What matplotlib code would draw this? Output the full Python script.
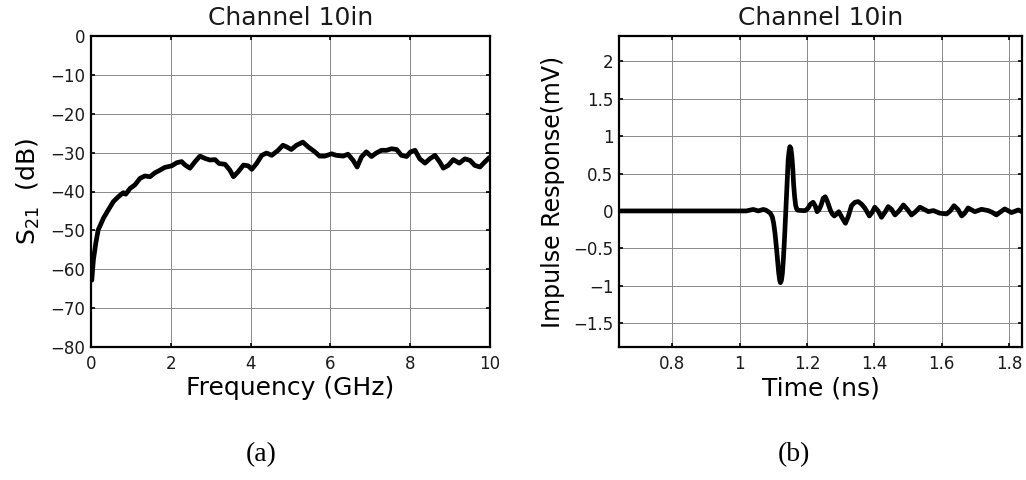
import matplotlib
matplotlib.use("Agg")
import matplotlib.pyplot as plt

plt.rcParams['font.family'] = ['DejaVu Sans']
plt.rcParams['axes.unicode_minus'] = True
plt.rcParams['text.color'] = '#1a1a1a'

# ---- Panel (a): S21 vs frequency ----
freq_ghz = [0.00, 0.02, 0.06, 0.12, 0.18, 0.31, 0.43, 0.56, 0.69, 0.81, 0.87, 0.98,
            1.10, 1.23, 1.35, 1.48, 1.60, 1.73, 1.85, 2.02, 2.15, 2.27, 2.36, 2.48,
            2.61, 2.73, 2.86, 2.98, 3.11, 3.21, 3.36, 3.48, 3.57, 3.69, 3.82, 3.94,
            4.03, 4.15, 4.28, 4.40, 4.53, 4.69, 4.81, 4.90, 5.02, 5.15, 5.31, 5.44,
            5.61, 5.73, 5.86, 6.03, 6.15, 6.32, 6.44, 6.57, 6.67, 6.78, 6.90, 7.03,
            7.15, 7.28, 7.41, 7.53, 7.66, 7.78, 7.91, 8.01, 8.12, 8.24, 8.37, 8.49,
            8.62, 8.74, 8.83, 8.95, 9.08, 9.23, 9.37, 9.50, 9.62, 9.75, 9.87, 10.0]
s21_db = [-63.0, -62.8, -57.6, -53.3, -49.9, -46.9, -44.8, -42.6, -41.3, -40.3, -40.7, -39.2,
          -38.3, -36.6, -36.0, -36.2, -35.2, -34.5, -33.8, -33.4, -32.6, -32.3, -33.2, -34.0,
          -32.3, -30.9, -31.5, -31.9, -31.8, -32.8, -33.0, -34.5, -36.2, -34.9, -33.2, -33.4,
          -34.3, -32.8, -30.7, -30.1, -30.7, -29.4, -28.1, -28.5, -29.2, -28.1, -27.3, -28.5,
          -29.8, -30.9, -30.9, -30.3, -30.7, -30.9, -30.4, -32.0, -33.7, -31.1, -29.8, -31.0,
          -30.1, -29.4, -29.4, -29.0, -29.2, -30.7, -31.0, -29.8, -29.4, -31.6, -32.7, -31.6,
          -30.7, -32.4, -34.0, -33.3, -31.8, -32.7, -31.6, -32.0, -33.3, -33.7, -32.4, -31.1]
freq_ticks = [0, 2, 4, 6, 8, 10]
s21_ticks = [0, -10, -20, -30, -40, -50, -60, -70, -80]

# ---- Panel (b): impulse response ----
time_ns = [0.60, 0.70, 0.80, 0.90, 1.00, 1.02, 1.03, 1.04, 1.048, 1.055, 1.063, 1.07,
           1.078, 1.085, 1.091, 1.097, 1.101, 1.105, 1.109, 1.113, 1.116, 1.119, 1.121,
           1.124, 1.127, 1.130, 1.133, 1.136, 1.139, 1.142, 1.144, 1.147, 1.149, 1.152,
           1.155, 1.158, 1.160, 1.163, 1.166, 1.169, 1.172, 1.185, 1.195, 1.203, 1.210,
           1.218, 1.224, 1.230, 1.236, 1.242, 1.248, 1.254, 1.261, 1.269, 1.275, 1.281,
           1.288, 1.294, 1.304, 1.314, 1.322, 1.332, 1.342, 1.352, 1.362, 1.372, 1.385,
           1.393, 1.401, 1.411, 1.421, 1.431, 1.441, 1.451, 1.461, 1.473, 1.486, 1.498,
           1.510, 1.522, 1.535, 1.548, 1.560, 1.575, 1.594, 1.614, 1.625, 1.636, 1.648,
           1.659, 1.668, 1.678, 1.698, 1.718, 1.738, 1.750, 1.762, 1.775, 1.787, 1.807,
           1.827, 1.847]
impulse_mv = [0.0, 0.0, 0.0, 0.0, 0.0, 0.0, 0.01, 0.02, 0.01, 0.0, 0.01, 0.02,
              0.01, -0.01, -0.03, -0.08, -0.165, -0.30, -0.48, -0.68, -0.83, -0.93, -0.96,
              -0.93, -0.83, -0.63, -0.39, -0.10, 0.19, 0.48, 0.68, 0.81, 0.86, 0.84,
              0.73, 0.55, 0.37, 0.20, 0.08, 0.03, 0.01, 0.005, 0.005, 0.036, 0.09,
              0.116, 0.07, -0.01, 0.02, 0.08, 0.17, 0.19, 0.12, 0.013, -0.04, -0.067,
              -0.04, -0.01, -0.09, -0.165, -0.08, 0.07, 0.115, 0.125, 0.09, 0.036, -0.067,
              -0.02, 0.05, 0.0, -0.085, -0.02, 0.058, 0.02, -0.054, 0.0, 0.08, 0.02,
              -0.054, -0.01, 0.05, 0.02, -0.009, 0.005, -0.03, -0.04, 0.0, 0.07, 0.02,
              -0.067, -0.03, 0.04, -0.01, 0.022, 0.004, -0.02, -0.054, -0.01, 0.027, -0.022,
              0.013, -0.03]
time_ticks = [0.8, 1.0, 1.2, 1.4, 1.6, 1.8]
time_ticklabels = ['0.8', '1', '1.2', '1.4', '1.6', '1.8']
imp_ticks = [-1.5, -1, -0.5, 0, 0.5, 1, 1.5, 2]
imp_ticklabels = ['\u22121.5', '\u22121', '\u22120.5', '0', '0.5', '1', '1.5', '2']

W, H = 1026, 480
fig = plt.figure(figsize=(W / 100, H / 100), dpi=100)

ax1 = fig.add_axes([91 / W, 1 - 347 / H, (490 - 91) / W, (347 - 36) / H])
ax2 = fig.add_axes([619 / W, 1 - 347 / H, (1022 - 619) / W, (347 - 36) / H])

def style(ax):
    for s in ax.spines.values():
        s.set_linewidth(1.6)
        s.set_color('black')
    ax.grid(True, color='#8a8a8a', linewidth=0.7, linestyle='-')
    ax.set_axisbelow(True)
    ax.tick_params(direction='in', length=3, width=1.2, top=True, right=True,
                   labelsize=12, pad=4, color='black', labelcolor='#1a1a1a')
    ax.tick_params(axis='x', pad=6)

ax1.plot(freq_ghz, s21_db, color='black', linewidth=3.4, solid_joinstyle='round',
         solid_capstyle='butt', zorder=3)
ax1.set_xlim(0, 10)
ax1.set_ylim(-80, 0)
ax1.set_xticks(freq_ticks)
ax1.set_yticks(s21_ticks)
style(ax1)
ax1.set_title('Channel 10in', fontsize=18, pad=8)
ax1.set_xlabel('Frequency (GHz)', fontsize=18, labelpad=2)
ax1.set_ylabel('S$_{21}$  (dB)', fontsize=18, labelpad=6)

ax2.plot(time_ns, impulse_mv, color='black', linewidth=3.4, solid_joinstyle='round',
         zorder=3)
ax2.set_xlim(0.642, 1.838)
ax2.set_ylim(-1.82, 2.34)
ax2.set_xticks(time_ticks)
ax2.set_xticklabels(time_ticklabels)
ax2.set_yticks(imp_ticks)
ax2.set_yticklabels(imp_ticklabels)
style(ax2)
ax2.set_title('Channel 10in', fontsize=18, pad=8)
ax2.set_xlabel('Time (ns)', fontsize=18, labelpad=2)
ax2.set_ylabel('Impulse Response(mV)', fontsize=17, labelpad=6)

fig.text(261 / W, 1 - 455 / H, '(a)', fontsize=20, family='Liberation Serif',
         ha='center', va='center', color='black')
fig.text(794 / W, 1 - 455 / H, '(b)', fontsize=20, family='Liberation Serif',
         ha='center', va='center', color='black')

fig.savefig('out.png', dpi=100)
